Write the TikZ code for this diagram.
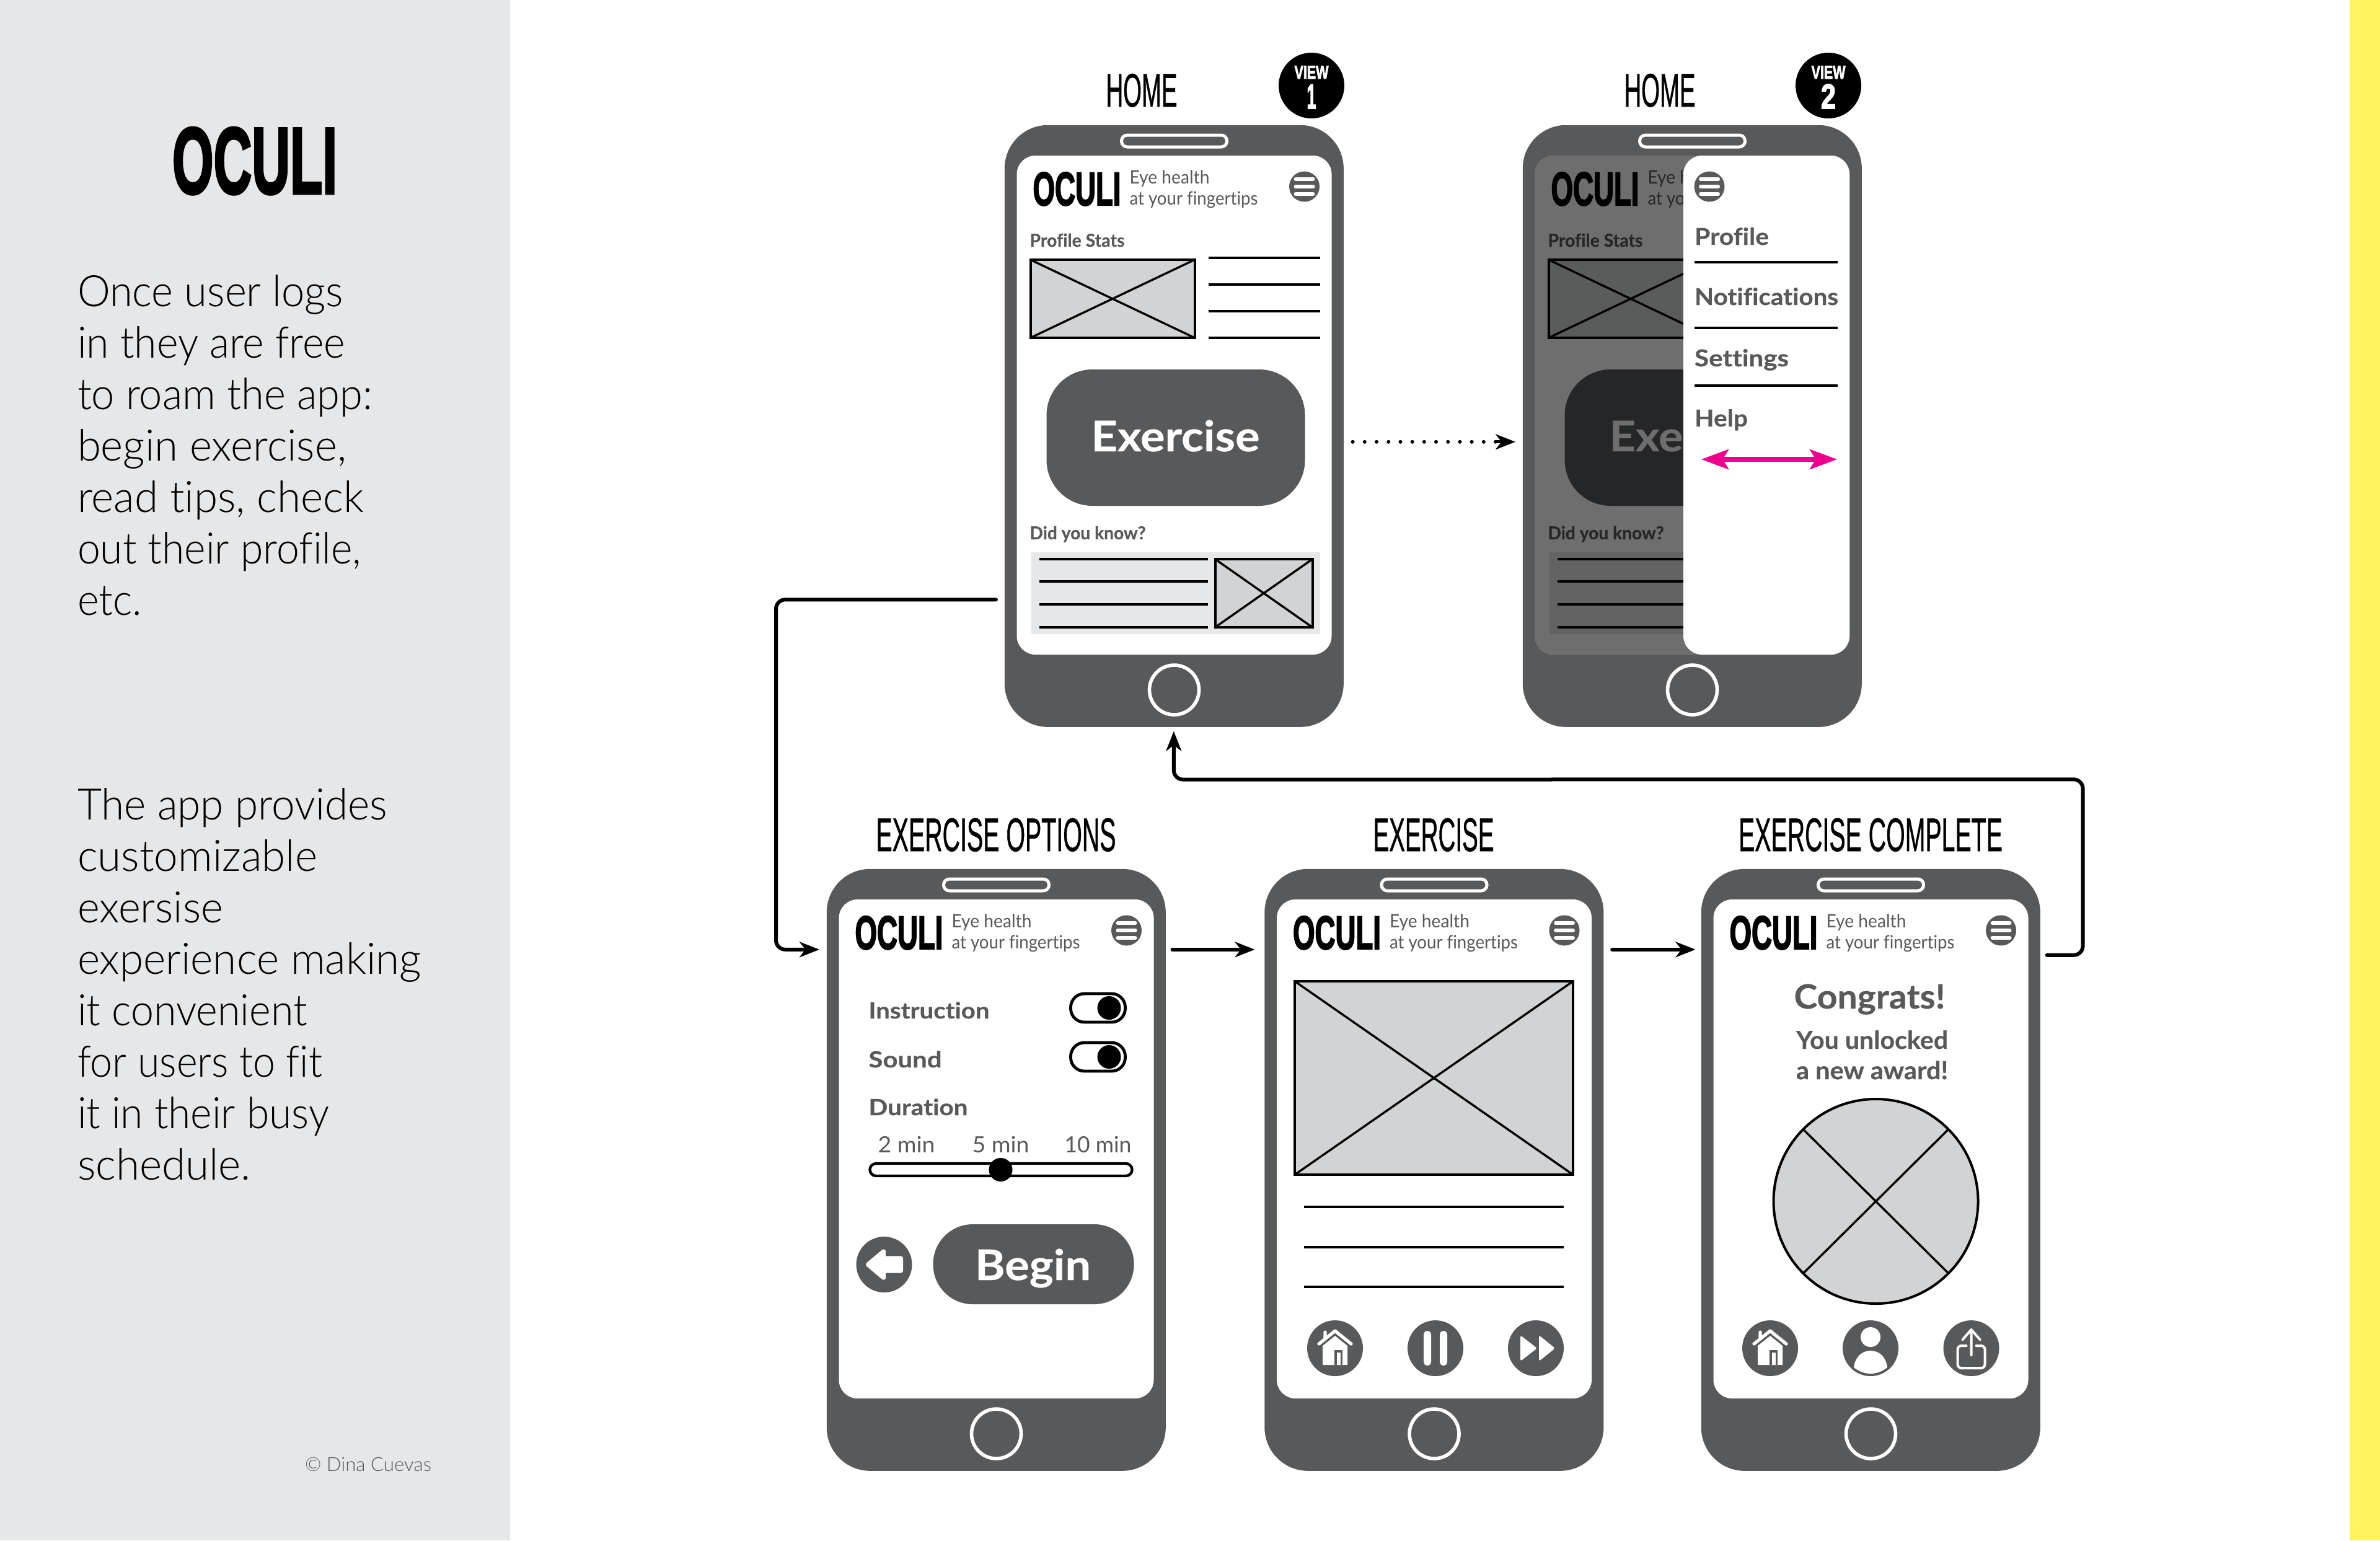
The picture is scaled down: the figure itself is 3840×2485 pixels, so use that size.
\documentclass[tikz,border=0pt]{standalone}
\usepackage{fontspec}
\usepackage{graphicx}
\usetikzlibrary{arrows.meta,calc}
\defaultfontfeatures{Ligatures=NoCommon}
\setmainfont{Lato}
\newfontfamily\lightfont{Lato Light}
\newfontfamily\logofont[FakeBold=3]{Liberation Sans Bold}
\newfontfamily\condfont[FakeBold=0.9]{Liberation Sans}
\newfontfamily\labelfont[FakeBold=0.4]{Lato Bold}
\definecolor{gd}{HTML}{58595B}
\definecolor{lg}{HTML}{D1D3D4}
\definecolor{pale}{HTML}{E6E7E8}
\definecolor{band}{HTML}{FFF35F}
\definecolor{hotpink}{HTML}{EC008C}
\newcommand\tw[2]{\resizebox{\dimexpr #1pt/4\relax}{\height}{#2}}
\tikzset{
  txt/.style={inner sep=0pt,outer sep=0pt,anchor=base west},
  ctr/.style={inner sep=0pt,outer sep=0pt,anchor=base},
  phonebody/.style={rectangle,fill=gd,rounded corners=17.5pt,inner sep=0pt,minimum width=136.75pt,minimum height=242.75pt,anchor=north west},
  logotxt/.style={txt,font=\logofont\fontsize{19}{19}\selectfont,text=black},
  head/.style={ctr,font=\condfont\fontsize{19}{19}\selectfont,text=black},
  sub/.style={txt,font=\fontsize{7.4}{7.4}\selectfont,text=gd},
  lab/.style={txt,font=\labelfont\fontsize{7.2}{7.2}\selectfont,text=gd},
  applab/.style={txt,font=\labelfont\fontsize{9.4}{9.4}\selectfont,text=gd},
  rule/.style={draw=black,line width=.85pt},
  imgbox/.style={draw=black,fill=lg,line width=1pt},
  conn/.style={draw=black,line width=1.5pt,line cap=round,rounded corners=3.75pt,-{Stealth[length=8pt,width=6.2pt,inset=2.4pt]}},
  para/.style={inner sep=0pt,outer sep=0pt,anchor=north west,align=left,font=\lightfont\fontsize{17.5}{20.75}\selectfont},
}
% placeholder picture
\newcommand\xpic[4]{\draw[imgbox] (#1,#2) rectangle (#3,#4); \draw[rule] (#1,#2)--(#3,#4) (#1,#4)--(#3,#2);}
% hamburger icon
\newcommand\menuicon[2]{\fill[gd] (#1,#2) circle[radius=24.5];
  \draw[white,line width=1.5pt,line cap=round] (#1-14,#2-12) -- (#1+14,#2-12) (#1-14,#2) -- (#1+14,#2) (#1-14,#2+12) -- (#1+14,#2+12);}
\newcommand\phone[3]{
  \node[phonebody] (#1) at (#2-1.5,#3) {};
  \begin{scope}[shift={(#2,#3)}]
    \fill[white,rounded corners=7.5pt] (19,50) rectangle (527,855);
    \draw[white,fill=gd,line width=1.25pt,rounded corners=2.3pt] (188,17) rectangle (358,36);
    \draw[white,line width=1.4pt] (273,912) circle[radius=40];
  \end{scope}}
\newcommand\header[3]{
  \begin{scope}[shift={(#2,#3)}]
    \node[logotxt] (#1logo) at (45,130) {\tw{142}{OCULI}};
    \node[sub] (#1eye) at (201,95) {\tw{129}{Eye health}};
    \node[sub] (#1fin) at (201,129) {\tw{207}{at your fingertips}};
    \menuicon{483}{100}
  \end{scope}}
% round icons
\newcommand\houseicon[2]{\begin{scope}[shift={(#1,#2)}]
  \fill[gd] (0,0) circle[radius=45];
  \fill[white] (-20,27) -- (-20,-4) -- (0,-20) -- (20,-4) -- (20,27) -- cycle;
  \draw[white,line width=1.3pt,line cap=round,line join=round] (-26,-7) -- (0,-28) -- (26,-7) (-16,-15) -- (-16,-26);
  \fill[gd] (-1,3) rectangle (12,27);
  \fill[white] (2.5,7) rectangle (8.5,27);
\end{scope}}
\newcommand\pauseicon[2]{\begin{scope}[shift={(#1,#2)}]
  \fill[gd] (0,0) circle[radius=45];
  \fill[white,rounded corners=1.4pt] (-19,-28) rectangle (-7,28) (7,-28) rectangle (19,28);
\end{scope}}
\newcommand\ffwdicon[2]{\begin{scope}[shift={(#1,#2)}]
  \fill[gd] (0,0) circle[radius=45];
  \fill[white,rounded corners=.8pt] (-25,-21) -- (2,0) -- (-25,21) -- cycle (5,-21) -- (31,0) -- (5,21) -- cycle;
\end{scope}}
\newcommand\personicon[2]{\begin{scope}[shift={(#1,#2)}]
  \fill[gd] (0,0) circle[radius=45];
  \fill[white] (0,-18) circle[radius=16];
  \fill[white] (-27,31) .. controls (-25,14) and (-14,4) .. (0,4) .. controls (14,4) and (25,14) .. (27,31) .. controls (18,38) and (9,41) .. (0,41) .. controls (-9,41) and (-18,38) .. (-27,31) -- cycle;
\end{scope}}
\newcommand\shareicon[2]{\begin{scope}[shift={(#1,#2)}]
  \fill[gd] (0,0) circle[radius=45];
  \draw[white,line width=1pt,line cap=round,line join=round,rounded corners=1.5pt] (-8,-4) -- (-22,-4) -- (-22,32) -- (22,32) -- (22,-4) -- (8,-4);
  \draw[white,line width=1pt,line cap=round,line join=round] (0,11) -- (0,-30) (-14,-14) -- (0,-30) -- (14,-14);
\end{scope}}
\begin{document}
\begin{tikzpicture}[x=.25pt,y=-.25pt]
\useasboundingbox (0,0) rectangle (3840,2485);
\fill[white] (0,0) rectangle (3840,2485);
\fill[pale] (0,0) rectangle (823,2485);
\fill[band] (3791,0) rectangle (3840,2485);

% side panel
\node[ctr,font=\logofont\fontsize{38}{38}\selectfont] (sidetitle) at (411,312) {\tw{266}{OCULI}};
\node[para] (para1) at (125,444) {\tw{429}{Once user logs}\\\tw{432}{in they are free}\\\tw{476}{to roam the app:}\\\tw{434}{begin exercise,}\\\tw{462}{read tips, check}\\\tw{458}{out their profile,}\\\tw{104}{etc.}};
\node[para] (para2) at (125,1272) {\tw{500}{The app provides}\\\tw{387}{customizable}\\\tw{235}{exersise}\\\tw{555}{experience making}\\\tw{371}{it convenient}\\\tw{395}{for users to fit}\\\tw{406}{it in their busy}\\\tw{280}{schedule.}};
\node[txt,font=\lightfont\fontsize{7.8}{8}\selectfont,text=gd] (copy) at (492,2373) {\tw{204}{© Dina Cuevas}};

% titles
\node[head] (t1) at (1842,172) {\tw{115}{HOME}};
\node[head] (t2) at (2678,172) {\tw{115}{HOME}};
\node[head] (t3) at (1607,1373) {\tw{387}{EXERCISE OPTIONS}};
\node[head] (t4) at (2313,1373) {\tw{195}{EXERCISE}};
\node[head] (t5) at (3018,1373) {\tw{426}{EXERCISE COMPLETE}};

% view badges
\foreach \bx/\bn/\bt in {2116/b1/1,2950/b2/2}{
  \fill[black] (\bx,138) circle[radius=53];
  \node[ctr,text=white,font=\logofont\fontsize{7.5}{7}\selectfont] (\bn v) at (\bx,127) {\tw{55}{VIEW}};
  \node[ctr,text=white,font=\logofont\fontsize{14}{13}\selectfont] (\bn n) at (\bx,175) {\tw{\ifnum\bt=1 15\else 24\fi}{\bt}};
}

% home content
\newcommand\homebody[1]{
  \begin{scope}
    \node[lab] (#1ps) at (40,197) {\tw{153}{Profile Stats}};
    \xpic{41}{218}{306}{344}
    \draw[rule] (328,215) -- (508,215) (328,258) -- (508,258) (328,301) -- (508,301) (328,344) -- (508,344);
    \fill[gd,rounded corners=18.5pt] (67,395) rectangle (484,615);
    \node[ctr,text=white,font=\labelfont\fontsize{17}{17}\selectfont] (#1ex) at (275,527) {\tw{272}{Exercise}};
    \node[lab] (#1dy) at (40,669) {\tw{187}{Did you know?}};
    \fill[pale] (42,690) rectangle (508,822);
    \draw[rule] (55,701) -- (327,701) (55,737) -- (327,737) (55,774) -- (327,774) (55,811) -- (327,811);
    \xpic{339}{701}{496}{811}
  \end{scope}}

% phone 1
\phone{p1}{1621.5}{201}
\header{pa}{1621.5}{201}
\begin{scope}[shift={(1621.5,201)}]\homebody{a}\end{scope}

% phone 2
\phone{p2}{2457.5}{201}
\header{pb}{2457.5}{201}
\begin{scope}[shift={(2457.5,201)}]
  \homebody{b}
  \fill[black,opacity=.57,rounded corners=7.5pt] (19,50) rectangle (527,855);
  \fill[white,rounded corners=7.5pt] (258.5,50) rectangle (526.5,855);
  \menuicon{300.5}{100}
  \node[applab] (m1) at (276.5,194) {\tw{120}{Profile}};
  \node[applab] (m2) at (276.5,291) {\tw{232}{Notifications}};
  \node[applab] (m3) at (276.5,390) {\tw{152}{Settings}};
  \node[applab] (m4) at (276.5,487) {\tw{86}{Help}};
  \draw[rule] (276.5,222) -- (507.5,222) (276.5,328) -- (507.5,328) (276.5,421) -- (507.5,421);
  \coordinate (pinkA) at (287.5,540);
  \coordinate (pinkB) at (506.5,540);
  \draw[hotpink,line width=1.8pt,{Stealth[length=11pt,width=8pt,inset=2.4pt]}-{Stealth[length=11pt,width=8pt,inset=2.4pt]}] (pinkA) -- (pinkB);
\end{scope}

% phone 3 options
\phone{p3}{1334.5}{1401}
\header{pc}{1334.5}{1401}
\begin{scope}[shift={(1334.5,1401)}]
  \node[applab,font=\labelfont\fontsize{9}{9}\selectfont] (o1) at (67,242) {\tw{195}{Instruction}};
  \node[applab,font=\labelfont\fontsize{9}{9}\selectfont] (o2) at (67,321) {\tw{118}{Sound}};
  \node[applab,font=\labelfont\fontsize{9}{9}\selectfont] (o3) at (67,398) {\tw{160}{Duration}};
  \foreach \ty in {225,304}{
    \draw[black,fill=white,line width=1.2pt,rounded corners=5.5pt] (393,\ty-23) rectangle (481,\ty+23);
    \fill[black] (455,\ty) circle[radius=19];
  }
  \node[ctr,font=\fontsize{9}{9}\selectfont,text=gd] (d1) at (128,458) {\tw{92}{2 min}};
  \node[ctr,font=\fontsize{9}{9}\selectfont,text=gd] (d2) at (280,458) {\tw{92}{5 min}};
  \node[ctr,font=\fontsize{9}{9}\selectfont,text=gd] (d3) at (437,458) {\tw{108}{10 min}};
  \draw[black,fill=white,line width=1.1pt,rounded corners=2.5pt] (69,476) rectangle (492,496);
  \fill[black] (280,486) circle[radius=19];
  \fill[gd] (92,639) circle[radius=45];
  \begin{scope}[shift={(92,639)}]
    \fill[white,draw=white,line width=1.8pt,line join=round] (-26,0) -- (-1,-21) -- (-1,-10) -- (27,-10) -- (27,10) -- (-1,10) -- (-1,21) -- cycle;
  \end{scope}
  \fill[gd,rounded corners=16pt] (171,574) rectangle (495,703);
  \node[ctr,text=white,font=\labelfont\fontsize{17}{17}\selectfont] (beg) at (332,664) {\tw{187}{Begin}};
\end{scope}

% phone 4 exercise
\phone{p4}{2041}{1401}
\header{pd}{2041}{1401}
\begin{scope}[shift={(2041,1401)}]
  \xpic{48}{182}{497}{494}
  \draw[rule] (63,546) -- (482,546) (63,611) -- (482,611) (63,675) -- (482,675);
  \houseicon{113}{774}
  \pauseicon{275}{774}
  \ffwdicon{437}{774}
\end{scope}

% phone 5 complete
\phone{p5}{2745.5}{1401}
\header{pe}{2745.5}{1401}
\begin{scope}[shift={(2745.5,1401)}]
  \node[ctr,font=\labelfont\fontsize{13.5}{13.5}\selectfont,text=gd] (c1) at (271,226) {\tw{244}{Congrats!}};
  \node[ctr,font=\labelfont\fontsize{10}{10}\selectfont,text=gd] (c2) at (275,291) {\tw{245}{You unlocked}};
  \node[ctr,font=\labelfont\fontsize{10}{10}\selectfont,text=gd] (c3) at (275,340) {\tw{245}{a new award!}};
  \draw[imgbox] (281,537) circle[radius=165];
  \draw[rule] (164,421) -- (398,653) (164,653) -- (398,421);
  \houseicon{110.5}{774}
  \personicon{272.5}{774}
  \shareicon{435}{774}
\end{scope}

% connectors
\draw[conn] ($(p1.west)+(-13,280)$) -- ($(p1.west)+(-368,280)$) -- ($(p3.west)+(-81,-355.5)$) -- ($(p3.west)+(-11,-355.5)$);
\draw[conn] ($(p3.east)+(10,-355.5)$) -- ($(p4.west)+(-15,-355.5)$);
\draw[conn] ($(p4.east)+(13,-355.5)$) -- ($(p5.west)+(-8.5,-355.5)$);
\draw[conn] ($(p5.east)+(10,-346.5)$) -- ($(p5.east)+(68,-346.5)$) -- ($(p5.east)+(68,-630)$) -- ($(p1.south)+(-0.5,84)$) -- ($(p1.south)+(-0.5,6)$);
\draw[black,line width=1.5pt,line cap=round,dash pattern=on 0pt off 4.8pt] ($(p1.east)+(14,25.5)$) -- ($(p2.west)+(-36,25.5)$);
\draw[black,line width=1.25pt,-{Stealth[length=8pt,width=6.2pt,inset=2.4pt]}] ($(p2.west)+(-43,25.5)$) -- ($(p2.west)+(-11,25.5)$);
\end{tikzpicture}
\end{document}
